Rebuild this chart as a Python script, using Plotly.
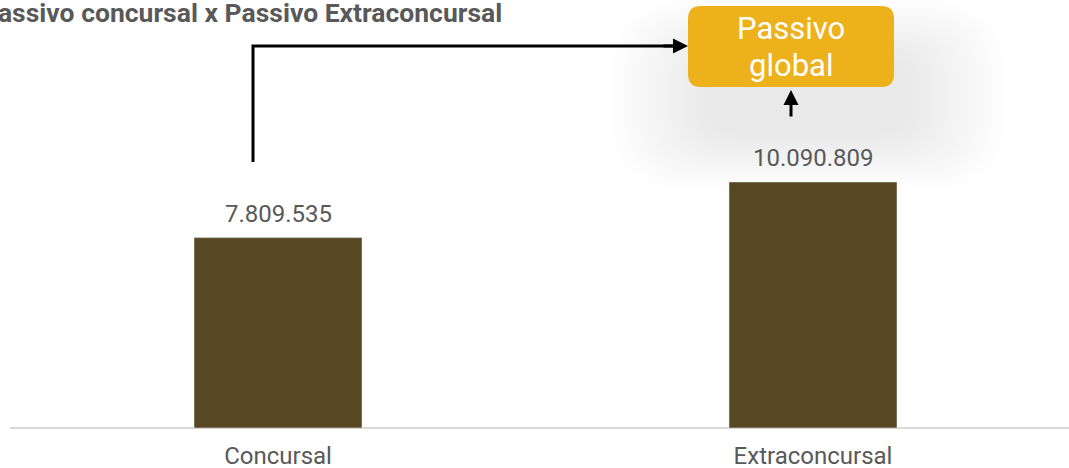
import plotly.graph_objects as go

categories = ["Concursal", "Extraconcursal"]
values = [7809535, 10090809]
title_text = "Passivo concursal x Passivo Extraconcursal"
box_lines = ["Passivo", "global"]

W, H = 1069, 468
ML, MR, MT, MB = 10, 0, 0, 40
PW, PH = W - ML - MR, H - MT - MB

def px(x):
    return (x - ML) / PW

def py(y):
    return (H - MB - y) / PH

def fmt(v):
    return f"{v:,}".replace(",", ".")

def rrect(x0, y0, x1, y1, r):
    rx, ry = r / PW, r / PH
    X0, X1 = px(x0), px(x1)
    Y0, Y1 = py(y0), py(y1)  # Y0 top (bigger), Y1 bottom
    return (f"M {X0+rx},{Y0} L {X1-rx},{Y0} Q {X1},{Y0} {X1},{Y0-ry} "
            f"L {X1},{Y1+ry} Q {X1},{Y1} {X1-rx},{Y1} "
            f"L {X0+rx},{Y1} Q {X0},{Y1} {X0},{Y1+ry} "
            f"L {X0},{Y0-ry} Q {X0},{Y0} {X0+rx},{Y0} Z")

fig = go.Figure()
fig.add_trace(go.Bar(
    x=categories, y=values, marker_color="#574823", width=0.314,
    hoverinfo="skip",
))

shapes = []
# soft shadow behind the box
n = 22
for i in range(n):
    t = i / (n - 1)
    cx, cy = 808, 95
    w = 400 - (400 - 200) * t
    h = 190 - (190 - 80) * t
    r = min(w, h) / 2.5
    shapes.append(dict(type="path", xref="paper", yref="paper",
                       path=rrect(cx - w / 2, max(cy - h / 2, 0), cx + w / 2, cy + h / 2, r),
                       fillcolor="rgba(0,0,0,0.0048)", line=dict(width=0), layer="below"))
# gold box
shapes.append(dict(type="path", xref="paper", yref="paper",
                   path=rrect(688, 6, 894, 87, 13),
                   fillcolor="#EDB11C", line=dict(width=0), layer="above"))
# elbow connector
shapes.append(dict(type="path", xref="paper", yref="paper",
                   path=f"M {px(253)},{py(162)} L {px(253)},{py(46)} L {px(676)},{py(46)}",
                   line=dict(color="black", width=3)))

annotations = [
    dict(text=f"<b>{title_text}</b>", xref="paper", yref="paper",
         x=px(-21), y=py(12), xanchor="left", yanchor="middle", showarrow=False,
         font=dict(family="Roboto", size=26.5, color="#595959")),
    dict(text=box_lines[0], xref="paper", yref="paper", x=px(791), y=py(28),
         xanchor="center", yanchor="middle", showarrow=False,
         font=dict(family="Roboto", size=31, color="white")),
    dict(text=box_lines[1], xref="paper", yref="paper", x=px(791), y=py(65),
         xanchor="center", yanchor="middle", showarrow=False,
         font=dict(family="Roboto", size=31, color="white")),
    dict(text="", xref="paper", yref="paper", x=px(688), y=py(46),
         ax=-26, ay=0,
         showarrow=True, arrowhead=2, arrowsize=1, arrowwidth=3, arrowcolor="black"),
    dict(text="", xref="paper", yref="paper", x=px(791), y=py(90),
         ax=0, ay=28,
         showarrow=True, arrowhead=2, arrowsize=1, arrowwidth=3, arrowcolor="black"),
]
for c, v in zip(categories, values):
    annotations.append(dict(text=fmt(v), x=c, y=v, xref="x", yref="y",
                            yanchor="middle", yshift=24, showarrow=False,
                            font=dict(family="Roboto", size=24, color="#595959")))

ymax = values[1] * PH / 246

fig.update_layout(
    width=W, height=H, margin=dict(l=ML, r=MR, t=MT, b=MB),
    paper_bgcolor="white", plot_bgcolor="white",
    showlegend=False, shapes=shapes, annotations=annotations,
    xaxis=dict(range=[-0.501, 1.4785], showgrid=False, zeroline=False,
               showline=False, ticks="", ticklabelstandoff=11, automargin=False,
               tickfont=dict(family="Roboto", size=24, color="#595959")),
    yaxis=dict(range=[0, ymax], showgrid=False, zeroline=True, automargin=False,
               zerolinecolor="#d9d9d9", zerolinewidth=2,
               showticklabels=False, showline=False),
)
fig.write_html("out.html", config={"displayModeBar": False},
               post_script="document.body.style.margin='0';document.body.style.overflow='hidden';")
